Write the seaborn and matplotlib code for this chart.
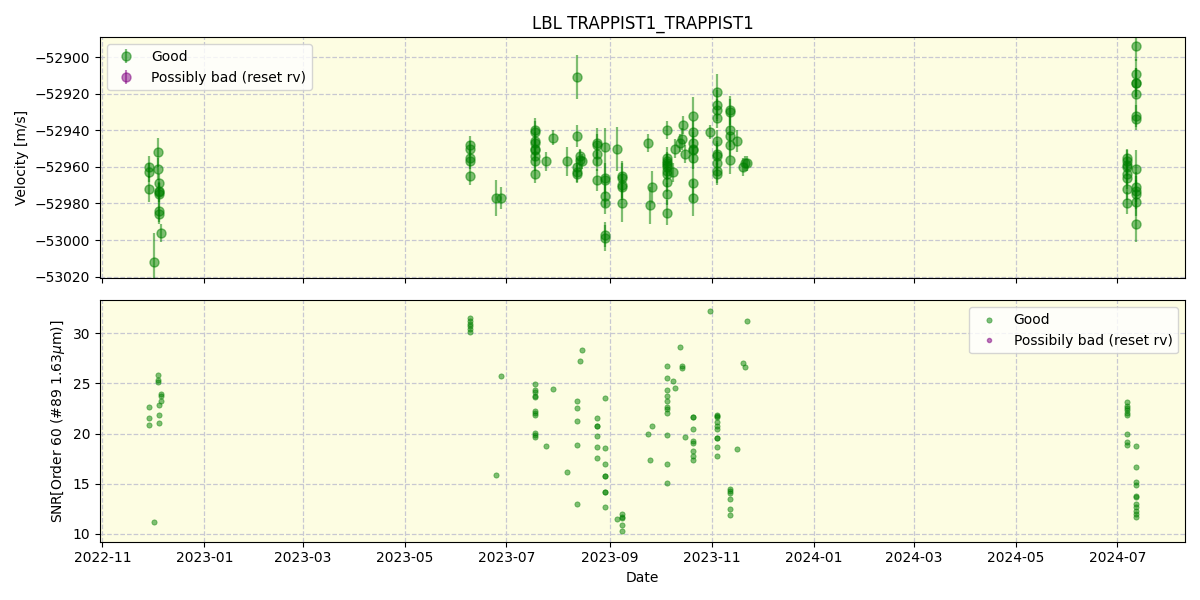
import matplotlib
matplotlib.use("Agg")
import matplotlib.pyplot as plt
import seaborn as sns
import pandas as pd
import numpy as np

# ---------------- data: velocity panel ----------------
rv_dates = [
    "2022-11-29", "2022-11-29", "2022-11-29", "2022-12-02",
    "2022-12-04", "2022-12-04", "2022-12-05", "2022-12-05", "2022-12-05",
    "2022-12-05", "2022-12-05", "2022-12-05", "2022-12-06",
    "2023-06-09", "2023-06-09", "2023-06-09", "2023-06-09", "2023-06-09",
    "2023-06-25", "2023-06-28",
    "2023-07-18", "2023-07-18", "2023-07-18", "2023-07-18", "2023-07-18",
    "2023-07-18", "2023-07-18", "2023-07-18", "2023-07-18",
    "2023-07-25", "2023-07-29", "2023-08-06",
    "2023-08-12", "2023-08-12", "2023-08-12", "2023-08-12", "2023-08-12",
    "2023-08-14", "2023-08-14", "2023-08-15",
    "2023-08-24", "2023-08-24", "2023-08-24", "2023-08-24", "2023-08-24",
    "2023-08-29", "2023-08-29", "2023-08-29", "2023-08-29", "2023-08-29",
    "2023-08-29", "2023-08-29",
    "2023-09-05", "2023-09-08", "2023-09-08", "2023-09-08", "2023-09-08",
    "2023-09-08",
    "2023-09-24", "2023-09-25", "2023-09-26",
    "2023-10-05", "2023-10-05", "2023-10-05", "2023-10-05", "2023-10-05",
    "2023-10-05", "2023-10-05", "2023-10-05", "2023-10-05", "2023-10-05",
    "2023-10-05",
    "2023-10-09", "2023-10-10", "2023-10-13", "2023-10-14", "2023-10-15",
    "2023-10-16",
    "2023-10-21", "2023-10-21", "2023-10-21", "2023-10-21", "2023-10-21",
    "2023-10-21", "2023-10-21", "2023-10-21",
    "2023-10-31",
    "2023-11-04", "2023-11-04", "2023-11-04", "2023-11-04", "2023-11-04",
    "2023-11-04", "2023-11-04", "2023-11-04", "2023-11-04", "2023-11-04",
    "2023-11-12", "2023-11-12", "2023-11-12", "2023-11-12", "2023-11-12",
    "2023-11-12",
    "2023-11-16", "2023-11-20", "2023-11-21", "2023-11-22",
    "2024-07-07", "2024-07-07", "2024-07-07", "2024-07-07", "2024-07-07",
    "2024-07-07", "2024-07-07", "2024-07-07",
    "2024-07-12", "2024-07-12", "2024-07-12", "2024-07-12", "2024-07-12",
    "2024-07-12", "2024-07-12", "2024-07-12", "2024-07-12", "2024-07-12",
    "2024-07-12", "2024-07-12", "2024-07-12",
]
rv_values = [
    -52960, -52963, -52972, -53012,
    -52952, -52961, -52969, -52973, -52975,
    -52984, -52986, -52974, -52996,
    -52948, -52950, -52955, -52957, -52965,
    -52977, -52977,
    -52940, -52941, -52946, -52947, -52950,
    -52951, -52954, -52957, -52964,
    -52957, -52944, -52957,
    -52911, -52943, -52960, -52963, -52964,
    -52954, -52956, -52957,
    -52947, -52948, -52953, -52957, -52967,
    -52949, -52966, -52967, -52976, -52980,
    -52997, -52999,
    -52950, -52965, -52966, -52970, -52971,
    -52980,
    -52947, -52981, -52971,
    -52940, -52955, -52957, -52958, -52959,
    -52960, -52962, -52964, -52968, -52975,
    -52985,
    -52963, -52950, -52947, -52945, -52937,
    -52953,
    -52932, -52941, -52947, -52950, -52951,
    -52955, -52969, -52977,
    -52941,
    -52919, -52926, -52929, -52933, -52946,
    -52953, -52954, -52958, -52962, -52964,
    -52929, -52930, -52940, -52943, -52948,
    -52956,
    -52946, -52960, -52958, -52958,
    -52955, -52957, -52959, -52960, -52964,
    -52966, -52972, -52980,
    -52894, -52909, -52914, -52914, -52920,
    -52932, -52934, -52961, -52971, -52973,
    -52975, -52979, -52991,
]
rv_errors = [
    6, 5, 7, 16,
    8, 6, 5, 5, 6,
    6, 5, 5, 5,
    5, 4, 5, 4, 5,
    10, 6,
    5, 8, 5, 5, 5,
    6, 5, 5, 5,
    5, 4, 8,
    12, 6, 5, 5, 5,
    4, 5, 4,
    8, 6, 6, 5, 6,
    10, 8, 8, 6, 6,
    7, 7,
    12, 8, 8, 7, 7,
    10,
    5, 10, 9,
    5, 6, 5, 5, 6,
    6, 5, 7, 6, 6,
    7,
    5, 5, 5, 6, 5,
    5,
    10, 6, 6, 8, 8,
    6, 10, 10,
    4,
    10, 8, 6, 6, 6,
    6, 8, 7, 7, 6,
    8, 7, 8, 6, 6,
    8,
    6, 5, 4, 4,
    5, 6, 6, 5, 6,
    6, 6, 6,
    8, 8, 8, 8, 8,
    6, 6, 10, 8, 8,
    8, 8, 10,
]

# ---------------- data: SNR panel ----------------
snr_dates = [
    "2022-11-29", "2022-11-29", "2022-11-29", "2022-12-02",
    "2022-12-04", "2022-12-04", "2022-12-04", "2022-12-05", "2022-12-05",
    "2022-12-05", "2022-12-06", "2022-12-06", "2022-12-06",
    "2023-06-09", "2023-06-09", "2023-06-09", "2023-06-09", "2023-06-09",
    "2023-06-09",
    "2023-06-25", "2023-06-28",
    "2023-07-18", "2023-07-18", "2023-07-18", "2023-07-18", "2023-07-18",
    "2023-07-18", "2023-07-18", "2023-07-18", "2023-07-18", "2023-07-18",
    "2023-07-18",
    "2023-07-25", "2023-07-29", "2023-08-06",
    "2023-08-12", "2023-08-12", "2023-08-12", "2023-08-12", "2023-08-12",
    "2023-08-14", "2023-08-15",
    "2023-08-24", "2023-08-24", "2023-08-24", "2023-08-24", "2023-08-24",
    "2023-08-24",
    "2023-08-29", "2023-08-29", "2023-08-29", "2023-08-29", "2023-08-29",
    "2023-08-29", "2023-08-29", "2023-08-29",
    "2023-09-05", "2023-09-08", "2023-09-08", "2023-09-08", "2023-09-08",
    "2023-09-08",
    "2023-09-24", "2023-09-25", "2023-09-26",
    "2023-10-05", "2023-10-05", "2023-10-05", "2023-10-05", "2023-10-05",
    "2023-10-05", "2023-10-05", "2023-10-05", "2023-10-05", "2023-10-05",
    "2023-10-05",
    "2023-10-09", "2023-10-10", "2023-10-13", "2023-10-14", "2023-10-14",
    "2023-10-16",
    "2023-10-21", "2023-10-21", "2023-10-21", "2023-10-21", "2023-10-21",
    "2023-10-21", "2023-10-21", "2023-10-21",
    "2023-10-31",
    "2023-11-04", "2023-11-04", "2023-11-04", "2023-11-04", "2023-11-04",
    "2023-11-04", "2023-11-04", "2023-11-04", "2023-11-04", "2023-11-04",
    "2023-11-12", "2023-11-12", "2023-11-12", "2023-11-12", "2023-11-12",
    "2023-11-12",
    "2023-11-16", "2023-11-20", "2023-11-21", "2023-11-22",
    "2024-07-07", "2024-07-07", "2024-07-07", "2024-07-07", "2024-07-07",
    "2024-07-07", "2024-07-07", "2024-07-07", "2024-07-07",
    "2024-07-12", "2024-07-12", "2024-07-12", "2024-07-12", "2024-07-12",
    "2024-07-12", "2024-07-12", "2024-07-12", "2024-07-12", "2024-07-12",
    "2024-07-12",
]
snr_values = [
    22.7, 21.6, 20.9, 11.2,
    25.8, 25.3, 25.1, 22.9, 21.9,
    21.1, 23.9, 23.7, 23.2,
    31.5, 31.2, 30.9, 30.7, 30.4,
    30.1,
    15.9, 25.7,
    24.9, 24.3, 24.1, 23.7, 23.6,
    22.3, 22.1, 21.9, 20.1, 19.9,
    19.7,
    18.8, 24.4, 16.2,
    13.0, 23.2, 22.6, 21.3, 18.9,
    27.2, 28.3,
    21.6, 20.8, 20.8, 19.8, 18.7,
    17.6,
    23.5, 18.6, 17.0, 15.8, 15.8,
    14.2, 14.2, 12.7,
    11.5, 12.0, 11.7, 11.6, 10.9,
    10.3,
    20.0, 17.4, 20.8,
    26.7, 25.5, 24.3, 23.7, 23.2,
    22.7, 22.5, 22.1, 19.9, 17.0,
    15.1,
    25.2, 24.5, 28.6, 26.7, 26.5,
    19.7,
    21.7, 21.7, 20.5, 19.3, 19.1,
    18.3, 17.8, 17.4,
    32.2,
    21.9, 21.8, 21.7, 21.2, 20.8,
    20.5, 19.6, 19.6, 18.7, 17.8,
    14.5, 14.3, 14.1, 13.5, 12.5,
    11.9,
    18.5, 27.0, 26.6, 31.2,
    23.1, 22.8, 22.6, 22.4, 22.1,
    21.9, 20.0, 19.2, 18.9,
    18.8, 16.7, 15.2, 14.9, 13.8,
    13.7, 13.0, 12.7, 12.3, 12.0,
    11.7,
]

rv_df = pd.DataFrame({"date": pd.to_datetime(rv_dates), "rv": rv_values, "err": rv_errors})
snr_df = pd.DataFrame({"date": pd.to_datetime(snr_dates), "snr": snr_values})

fig, (ax1, ax2) = plt.subplots(2, 1, figsize=(12, 6), dpi=100, sharex=True)

for ax in (ax1, ax2):
    ax.set_facecolor("#fdfde2")
    ax.grid(True, linestyle="--", color="#c8c8d2", linewidth=0.9)
    ax.set_axisbelow(True)

# Top: velocity with error bars
ax1.errorbar(rv_df["date"], rv_df["rv"], yerr=rv_df["err"], fmt="o",
             color="green", alpha=0.5, markersize=6.5, elinewidth=1.6,
             label="Good")
ax1.errorbar([], [], yerr=[], fmt="o", color="purple", alpha=0.5,
             markersize=6.5, label="Possibly bad (reset rv)")
ax1.set_ylabel("Velocity [m/s]")
ax1.set_title("LBL TRAPPIST1_TRAPPIST1")
ax1.legend(loc="upper left")
ax1.set_ylim(-53021, -52889)

# Bottom: SNR
sns.scatterplot(data=snr_df, x="date", y="snr", ax=ax2, color="green",
                alpha=0.5, s=14, edgecolor="green", linewidth=0.6, label="Good")
ax2.plot([], [], ".", color="purple", alpha=0.5,
         label="Possibily bad (reset rv)")
ax2.set_ylabel("SNR[Order 60 (#89 1.63$\\mu$m)]")
ax2.set_xlabel("Date")
ax2.legend(loc="upper right")

ax2.xaxis.set_major_locator(matplotlib.dates.MonthLocator(bymonth=[1, 3, 5, 7, 9, 11]))
ax2.xaxis.set_major_formatter(matplotlib.dates.DateFormatter("%Y-%m"))

fig.tight_layout()
fig.savefig("out.png", dpi=100)
